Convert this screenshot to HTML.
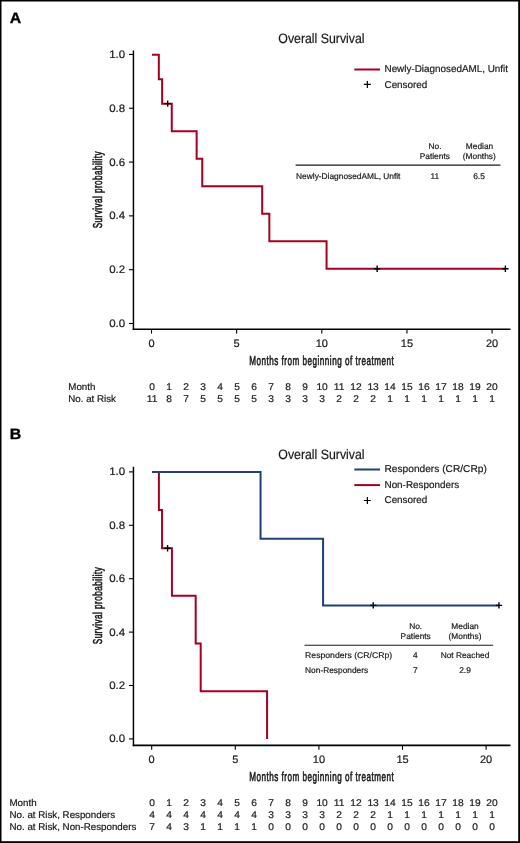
<!DOCTYPE html>
<html><head><meta charset="utf-8"><style>
html,body{margin:0;padding:0;background:#fff;}
svg{display:block;font-family:"Liberation Sans", sans-serif;will-change:transform;text-rendering:geometricPrecision;}
</style></head><body>
<svg width="520" height="843" viewBox="0 0 520 843">
<rect x="0" y="0" width="520" height="843" fill="#fff"/>
<text x="9.8" y="22.6" font-size="15" text-anchor="start" font-weight="bold" fill="#000" textLength="11.48" lengthAdjust="spacingAndGlyphs" stroke="#000" stroke-width="0.35">A</text>
<text x="278.3" y="43.0" font-size="13.6" text-anchor="start" font-weight="normal" fill="#1a1a1a" textLength="86.3" lengthAdjust="spacingAndGlyphs" stroke="#1a1a1a" stroke-width="0.2">Overall Survival</text>
<line x1="133.45" y1="50.5" x2="133.45" y2="330.0" stroke="#000" stroke-width="1.45" stroke-linecap="butt"/>
<line x1="132.75" y1="329.2" x2="510.5" y2="329.2" stroke="#000" stroke-width="1.6" stroke-linecap="butt"/>
<line x1="129.0" y1="323.5" x2="133.45" y2="323.5" stroke="#000" stroke-width="1.1" stroke-linecap="butt"/>
<text x="125.2" y="326.95" font-size="10.8" text-anchor="end" font-weight="normal" fill="#1a1a1a" textLength="15.99" lengthAdjust="spacingAndGlyphs" stroke="#1a1a1a" stroke-width="0.2">0.0</text>
<line x1="129.0" y1="269.69" x2="133.45" y2="269.69" stroke="#000" stroke-width="1.1" stroke-linecap="butt"/>
<text x="125.2" y="273.14" font-size="10.8" text-anchor="end" font-weight="normal" fill="#1a1a1a" textLength="15.99" lengthAdjust="spacingAndGlyphs" stroke="#1a1a1a" stroke-width="0.2">0.2</text>
<line x1="129.0" y1="215.88" x2="133.45" y2="215.88" stroke="#000" stroke-width="1.1" stroke-linecap="butt"/>
<text x="125.2" y="219.32999999999998" font-size="10.8" text-anchor="end" font-weight="normal" fill="#1a1a1a" textLength="15.99" lengthAdjust="spacingAndGlyphs" stroke="#1a1a1a" stroke-width="0.2">0.4</text>
<line x1="129.0" y1="162.06999999999996" x2="133.45" y2="162.06999999999996" stroke="#000" stroke-width="1.1" stroke-linecap="butt"/>
<text x="125.2" y="165.51999999999995" font-size="10.8" text-anchor="end" font-weight="normal" fill="#1a1a1a" textLength="15.99" lengthAdjust="spacingAndGlyphs" stroke="#1a1a1a" stroke-width="0.2">0.6</text>
<line x1="129.0" y1="108.25999999999999" x2="133.45" y2="108.25999999999999" stroke="#000" stroke-width="1.1" stroke-linecap="butt"/>
<text x="125.2" y="111.71" font-size="10.8" text-anchor="end" font-weight="normal" fill="#1a1a1a" textLength="15.99" lengthAdjust="spacingAndGlyphs" stroke="#1a1a1a" stroke-width="0.2">0.8</text>
<line x1="129.0" y1="54.44999999999999" x2="133.45" y2="54.44999999999999" stroke="#000" stroke-width="1.1" stroke-linecap="butt"/>
<text x="125.2" y="57.89999999999999" font-size="10.8" text-anchor="end" font-weight="normal" fill="#1a1a1a" textLength="15.99" lengthAdjust="spacingAndGlyphs" stroke="#1a1a1a" stroke-width="0.2">1.0</text>
<line x1="151.5" y1="329.2" x2="151.5" y2="333.59999999999997" stroke="#000" stroke-width="1.1" stroke-linecap="butt"/>
<text x="151.5" y="346.8" font-size="10.8" text-anchor="middle" font-weight="normal" fill="#1a1a1a" textLength="6.13" lengthAdjust="spacingAndGlyphs" stroke="#1a1a1a" stroke-width="0.2">0</text>
<line x1="236.65" y1="329.2" x2="236.65" y2="333.59999999999997" stroke="#000" stroke-width="1.1" stroke-linecap="butt"/>
<text x="236.65" y="346.8" font-size="10.8" text-anchor="middle" font-weight="normal" fill="#1a1a1a" textLength="6.13" lengthAdjust="spacingAndGlyphs" stroke="#1a1a1a" stroke-width="0.2">5</text>
<line x1="321.8" y1="329.2" x2="321.8" y2="333.59999999999997" stroke="#000" stroke-width="1.1" stroke-linecap="butt"/>
<text x="321.8" y="346.8" font-size="10.8" text-anchor="middle" font-weight="normal" fill="#1a1a1a" textLength="12.25" lengthAdjust="spacingAndGlyphs" stroke="#1a1a1a" stroke-width="0.2">10</text>
<line x1="406.95000000000005" y1="329.2" x2="406.95000000000005" y2="333.59999999999997" stroke="#000" stroke-width="1.1" stroke-linecap="butt"/>
<text x="406.95000000000005" y="346.8" font-size="10.8" text-anchor="middle" font-weight="normal" fill="#1a1a1a" textLength="12.25" lengthAdjust="spacingAndGlyphs" stroke="#1a1a1a" stroke-width="0.2">15</text>
<line x1="492.1" y1="329.2" x2="492.1" y2="333.59999999999997" stroke="#000" stroke-width="1.1" stroke-linecap="butt"/>
<text x="492.1" y="346.8" font-size="10.8" text-anchor="middle" font-weight="normal" fill="#1a1a1a" textLength="12.25" lengthAdjust="spacingAndGlyphs" stroke="#1a1a1a" stroke-width="0.2">20</text>
<text transform="translate(249.2,365.0) scale(0.63,1)" x="0" y="0" font-size="12.9" fill="#1a1a1a" textLength="229.37" lengthAdjust="spacing" stroke="#1a1a1a" stroke-width="0.6">Months from beginning of treatment</text>
<text transform="translate(102.3,189.85) rotate(-90) scale(0.63,1)" x="0" y="0" font-size="12.9" text-anchor="middle" fill="#1a1a1a" textLength="122.22" lengthAdjust="spacing" stroke="#1a1a1a" stroke-width="0.6">Survival probability</text>
<path d="M152.00,54.75 L158.82,54.75 L158.82,79.21 L162.14,79.21 L162.14,103.67 L171.77,103.67 L171.77,131.18 L196.63,131.18 L196.63,158.70 L202.25,158.70 L202.25,186.22 L262.19,186.22 L262.19,213.73 L269.35,213.73 L269.35,241.25 L326.57,241.25 L326.57,268.77 L505.38,268.77" stroke="#a50022" stroke-width="2" fill="none" stroke-linejoin="miter" stroke-linecap="butt"/>
<path d="M164.4785,103.6681818181818H170.87849999999997M167.67849999999999,100.46818181818179V106.8681818181818" stroke="#000" stroke-width="1.4" fill="none"/>
<path d="M373.94750000000005,268.76704545454544H380.3475M377.14750000000004,265.56704545454545V271.9670454545454" stroke="#000" stroke-width="1.4" fill="none"/>
<path d="M502.18340000000006,268.76704545454544H508.58340000000004M505.38340000000005,265.56704545454545V271.9670454545454" stroke="#000" stroke-width="1.4" fill="none"/>
<line x1="354.3" y1="69.5" x2="380" y2="69.5" stroke="#a50022" stroke-width="2" stroke-linecap="butt"/>
<text x="384.5" y="72.3" font-size="9.9" text-anchor="start" font-weight="normal" fill="#1a1a1a" stroke="#1a1a1a" stroke-width="0.2">Newly-DiagnosedAML, Unfit</text>
<path d="M363.85,84.4H370.85M367.35,80.9V87.9" stroke="#000" stroke-width="1.2" fill="none"/>
<text x="384.5" y="87.7" font-size="9.9" text-anchor="start" font-weight="normal" fill="#1a1a1a" stroke="#1a1a1a" stroke-width="0.2">Censored</text>
<text x="435" y="148.8" font-size="8.35" text-anchor="middle" font-weight="normal" fill="#1a1a1a" stroke="#1a1a1a" stroke-width="0.2">No.</text>
<text x="434.8" y="158.7" font-size="8.35" text-anchor="middle" font-weight="normal" fill="#1a1a1a" stroke="#1a1a1a" stroke-width="0.2">Patients</text>
<text x="479.5" y="148.8" font-size="8.35" text-anchor="middle" font-weight="normal" fill="#1a1a1a" stroke="#1a1a1a" stroke-width="0.2">Median</text>
<text x="479.3" y="158.7" font-size="8.35" text-anchor="middle" font-weight="normal" fill="#1a1a1a" stroke="#1a1a1a" stroke-width="0.2">(Months)</text>
<text x="296.1" y="178.5" font-size="8.35" text-anchor="start" font-weight="normal" fill="#1a1a1a" stroke="#1a1a1a" stroke-width="0.2">Newly-DiagnosedAML, Unfit</text>
<text x="434.8" y="178.5" font-size="8.35" text-anchor="middle" font-weight="normal" fill="#1a1a1a" stroke="#1a1a1a" stroke-width="0.2">11</text>
<text x="479.0" y="178.5" font-size="8.35" text-anchor="middle" font-weight="normal" fill="#1a1a1a" stroke="#1a1a1a" stroke-width="0.2">6.5</text>
<line x1="295.6" y1="165.2" x2="500.4" y2="165.2" stroke="#1a1a1a" stroke-width="1.2" stroke-linecap="butt"/>
<text x="68.3" y="390.0" font-size="9.75" text-anchor="start" font-weight="normal" fill="#1a1a1a" stroke="#1a1a1a" stroke-width="0.2">Month</text>
<text x="68.3" y="401.9" font-size="9.75" text-anchor="start" font-weight="normal" fill="#1a1a1a" stroke="#1a1a1a" stroke-width="0.2">No. at Risk</text>
<text x="152.2" y="390.0" font-size="9.75" text-anchor="middle" font-weight="normal" fill="#1a1a1a" textLength="5.69" lengthAdjust="spacingAndGlyphs" stroke="#1a1a1a" stroke-width="0.2">0</text>
<text x="169.19" y="390.0" font-size="9.75" text-anchor="middle" font-weight="normal" fill="#1a1a1a" textLength="5.69" lengthAdjust="spacingAndGlyphs" stroke="#1a1a1a" stroke-width="0.2">1</text>
<text x="186.17999999999998" y="390.0" font-size="9.75" text-anchor="middle" font-weight="normal" fill="#1a1a1a" textLength="5.69" lengthAdjust="spacingAndGlyphs" stroke="#1a1a1a" stroke-width="0.2">2</text>
<text x="203.17" y="390.0" font-size="9.75" text-anchor="middle" font-weight="normal" fill="#1a1a1a" textLength="5.69" lengthAdjust="spacingAndGlyphs" stroke="#1a1a1a" stroke-width="0.2">3</text>
<text x="220.15999999999997" y="390.0" font-size="9.75" text-anchor="middle" font-weight="normal" fill="#1a1a1a" textLength="5.69" lengthAdjust="spacingAndGlyphs" stroke="#1a1a1a" stroke-width="0.2">4</text>
<text x="237.14999999999998" y="390.0" font-size="9.75" text-anchor="middle" font-weight="normal" fill="#1a1a1a" textLength="5.69" lengthAdjust="spacingAndGlyphs" stroke="#1a1a1a" stroke-width="0.2">5</text>
<text x="254.14" y="390.0" font-size="9.75" text-anchor="middle" font-weight="normal" fill="#1a1a1a" textLength="5.69" lengthAdjust="spacingAndGlyphs" stroke="#1a1a1a" stroke-width="0.2">6</text>
<text x="271.13" y="390.0" font-size="9.75" text-anchor="middle" font-weight="normal" fill="#1a1a1a" textLength="5.69" lengthAdjust="spacingAndGlyphs" stroke="#1a1a1a" stroke-width="0.2">7</text>
<text x="288.12" y="390.0" font-size="9.75" text-anchor="middle" font-weight="normal" fill="#1a1a1a" textLength="5.69" lengthAdjust="spacingAndGlyphs" stroke="#1a1a1a" stroke-width="0.2">8</text>
<text x="305.11" y="390.0" font-size="9.75" text-anchor="middle" font-weight="normal" fill="#1a1a1a" textLength="5.69" lengthAdjust="spacingAndGlyphs" stroke="#1a1a1a" stroke-width="0.2">9</text>
<text x="322.09999999999997" y="390.0" font-size="9.75" text-anchor="middle" font-weight="normal" fill="#1a1a1a" textLength="11.39" lengthAdjust="spacingAndGlyphs" stroke="#1a1a1a" stroke-width="0.2">10</text>
<text x="339.09" y="390.0" font-size="9.75" text-anchor="middle" font-weight="normal" fill="#1a1a1a" textLength="10.63" lengthAdjust="spacingAndGlyphs" stroke="#1a1a1a" stroke-width="0.2">11</text>
<text x="356.08" y="390.0" font-size="9.75" text-anchor="middle" font-weight="normal" fill="#1a1a1a" textLength="11.39" lengthAdjust="spacingAndGlyphs" stroke="#1a1a1a" stroke-width="0.2">12</text>
<text x="373.06999999999994" y="390.0" font-size="9.75" text-anchor="middle" font-weight="normal" fill="#1a1a1a" textLength="11.39" lengthAdjust="spacingAndGlyphs" stroke="#1a1a1a" stroke-width="0.2">13</text>
<text x="390.05999999999995" y="390.0" font-size="9.75" text-anchor="middle" font-weight="normal" fill="#1a1a1a" textLength="11.39" lengthAdjust="spacingAndGlyphs" stroke="#1a1a1a" stroke-width="0.2">14</text>
<text x="407.04999999999995" y="390.0" font-size="9.75" text-anchor="middle" font-weight="normal" fill="#1a1a1a" textLength="11.39" lengthAdjust="spacingAndGlyphs" stroke="#1a1a1a" stroke-width="0.2">15</text>
<text x="424.03999999999996" y="390.0" font-size="9.75" text-anchor="middle" font-weight="normal" fill="#1a1a1a" textLength="11.39" lengthAdjust="spacingAndGlyphs" stroke="#1a1a1a" stroke-width="0.2">16</text>
<text x="441.03" y="390.0" font-size="9.75" text-anchor="middle" font-weight="normal" fill="#1a1a1a" textLength="11.39" lengthAdjust="spacingAndGlyphs" stroke="#1a1a1a" stroke-width="0.2">17</text>
<text x="458.02" y="390.0" font-size="9.75" text-anchor="middle" font-weight="normal" fill="#1a1a1a" textLength="11.39" lengthAdjust="spacingAndGlyphs" stroke="#1a1a1a" stroke-width="0.2">18</text>
<text x="475.00999999999993" y="390.0" font-size="9.75" text-anchor="middle" font-weight="normal" fill="#1a1a1a" textLength="11.39" lengthAdjust="spacingAndGlyphs" stroke="#1a1a1a" stroke-width="0.2">19</text>
<text x="491.99999999999994" y="390.0" font-size="9.75" text-anchor="middle" font-weight="normal" fill="#1a1a1a" textLength="11.39" lengthAdjust="spacingAndGlyphs" stroke="#1a1a1a" stroke-width="0.2">20</text>
<text x="152.2" y="401.9" font-size="9.75" text-anchor="middle" font-weight="normal" fill="#1a1a1a" textLength="10.63" lengthAdjust="spacingAndGlyphs" stroke="#1a1a1a" stroke-width="0.2">11</text>
<text x="169.19" y="401.9" font-size="9.75" text-anchor="middle" font-weight="normal" fill="#1a1a1a" textLength="5.69" lengthAdjust="spacingAndGlyphs" stroke="#1a1a1a" stroke-width="0.2">8</text>
<text x="186.17999999999998" y="401.9" font-size="9.75" text-anchor="middle" font-weight="normal" fill="#1a1a1a" textLength="5.69" lengthAdjust="spacingAndGlyphs" stroke="#1a1a1a" stroke-width="0.2">7</text>
<text x="203.17" y="401.9" font-size="9.75" text-anchor="middle" font-weight="normal" fill="#1a1a1a" textLength="5.69" lengthAdjust="spacingAndGlyphs" stroke="#1a1a1a" stroke-width="0.2">5</text>
<text x="220.15999999999997" y="401.9" font-size="9.75" text-anchor="middle" font-weight="normal" fill="#1a1a1a" textLength="5.69" lengthAdjust="spacingAndGlyphs" stroke="#1a1a1a" stroke-width="0.2">5</text>
<text x="237.14999999999998" y="401.9" font-size="9.75" text-anchor="middle" font-weight="normal" fill="#1a1a1a" textLength="5.69" lengthAdjust="spacingAndGlyphs" stroke="#1a1a1a" stroke-width="0.2">5</text>
<text x="254.14" y="401.9" font-size="9.75" text-anchor="middle" font-weight="normal" fill="#1a1a1a" textLength="5.69" lengthAdjust="spacingAndGlyphs" stroke="#1a1a1a" stroke-width="0.2">5</text>
<text x="271.13" y="401.9" font-size="9.75" text-anchor="middle" font-weight="normal" fill="#1a1a1a" textLength="5.69" lengthAdjust="spacingAndGlyphs" stroke="#1a1a1a" stroke-width="0.2">3</text>
<text x="288.12" y="401.9" font-size="9.75" text-anchor="middle" font-weight="normal" fill="#1a1a1a" textLength="5.69" lengthAdjust="spacingAndGlyphs" stroke="#1a1a1a" stroke-width="0.2">3</text>
<text x="305.11" y="401.9" font-size="9.75" text-anchor="middle" font-weight="normal" fill="#1a1a1a" textLength="5.69" lengthAdjust="spacingAndGlyphs" stroke="#1a1a1a" stroke-width="0.2">3</text>
<text x="322.09999999999997" y="401.9" font-size="9.75" text-anchor="middle" font-weight="normal" fill="#1a1a1a" textLength="5.69" lengthAdjust="spacingAndGlyphs" stroke="#1a1a1a" stroke-width="0.2">3</text>
<text x="339.09" y="401.9" font-size="9.75" text-anchor="middle" font-weight="normal" fill="#1a1a1a" textLength="5.69" lengthAdjust="spacingAndGlyphs" stroke="#1a1a1a" stroke-width="0.2">2</text>
<text x="356.08" y="401.9" font-size="9.75" text-anchor="middle" font-weight="normal" fill="#1a1a1a" textLength="5.69" lengthAdjust="spacingAndGlyphs" stroke="#1a1a1a" stroke-width="0.2">2</text>
<text x="373.06999999999994" y="401.9" font-size="9.75" text-anchor="middle" font-weight="normal" fill="#1a1a1a" textLength="5.69" lengthAdjust="spacingAndGlyphs" stroke="#1a1a1a" stroke-width="0.2">2</text>
<text x="390.05999999999995" y="401.9" font-size="9.75" text-anchor="middle" font-weight="normal" fill="#1a1a1a" textLength="5.69" lengthAdjust="spacingAndGlyphs" stroke="#1a1a1a" stroke-width="0.2">1</text>
<text x="407.04999999999995" y="401.9" font-size="9.75" text-anchor="middle" font-weight="normal" fill="#1a1a1a" textLength="5.69" lengthAdjust="spacingAndGlyphs" stroke="#1a1a1a" stroke-width="0.2">1</text>
<text x="424.03999999999996" y="401.9" font-size="9.75" text-anchor="middle" font-weight="normal" fill="#1a1a1a" textLength="5.69" lengthAdjust="spacingAndGlyphs" stroke="#1a1a1a" stroke-width="0.2">1</text>
<text x="441.03" y="401.9" font-size="9.75" text-anchor="middle" font-weight="normal" fill="#1a1a1a" textLength="5.69" lengthAdjust="spacingAndGlyphs" stroke="#1a1a1a" stroke-width="0.2">1</text>
<text x="458.02" y="401.9" font-size="9.75" text-anchor="middle" font-weight="normal" fill="#1a1a1a" textLength="5.69" lengthAdjust="spacingAndGlyphs" stroke="#1a1a1a" stroke-width="0.2">1</text>
<text x="475.00999999999993" y="401.9" font-size="9.75" text-anchor="middle" font-weight="normal" fill="#1a1a1a" textLength="5.69" lengthAdjust="spacingAndGlyphs" stroke="#1a1a1a" stroke-width="0.2">1</text>
<text x="491.99999999999994" y="401.9" font-size="9.75" text-anchor="middle" font-weight="normal" fill="#1a1a1a" textLength="5.69" lengthAdjust="spacingAndGlyphs" stroke="#1a1a1a" stroke-width="0.2">1</text>
<text x="9.8" y="439.0" font-size="15" text-anchor="start" font-weight="bold" fill="#000" textLength="11.48" lengthAdjust="spacingAndGlyphs" stroke="#000" stroke-width="0.35">B</text>
<text x="278.3" y="459.0" font-size="13.6" text-anchor="start" font-weight="normal" fill="#1a1a1a" textLength="86.3" lengthAdjust="spacingAndGlyphs" stroke="#1a1a1a" stroke-width="0.2">Overall Survival</text>
<line x1="133.45" y1="466.8" x2="133.45" y2="746.1999999999999" stroke="#000" stroke-width="1.45" stroke-linecap="butt"/>
<line x1="132.75" y1="745.4" x2="510.5" y2="745.4" stroke="#000" stroke-width="1.6" stroke-linecap="butt"/>
<line x1="129.0" y1="738.9" x2="133.45" y2="738.9" stroke="#000" stroke-width="1.1" stroke-linecap="butt"/>
<text x="125.2" y="742.35" font-size="10.8" text-anchor="end" font-weight="normal" fill="#1a1a1a" textLength="15.99" lengthAdjust="spacingAndGlyphs" stroke="#1a1a1a" stroke-width="0.2">0.0</text>
<line x1="129.0" y1="685.5" x2="133.45" y2="685.5" stroke="#000" stroke-width="1.1" stroke-linecap="butt"/>
<text x="125.2" y="688.95" font-size="10.8" text-anchor="end" font-weight="normal" fill="#1a1a1a" textLength="15.99" lengthAdjust="spacingAndGlyphs" stroke="#1a1a1a" stroke-width="0.2">0.2</text>
<line x1="129.0" y1="632.0999999999999" x2="133.45" y2="632.0999999999999" stroke="#000" stroke-width="1.1" stroke-linecap="butt"/>
<text x="125.2" y="635.55" font-size="10.8" text-anchor="end" font-weight="normal" fill="#1a1a1a" textLength="15.99" lengthAdjust="spacingAndGlyphs" stroke="#1a1a1a" stroke-width="0.2">0.4</text>
<line x1="129.0" y1="578.6999999999999" x2="133.45" y2="578.6999999999999" stroke="#000" stroke-width="1.1" stroke-linecap="butt"/>
<text x="125.2" y="582.15" font-size="10.8" text-anchor="end" font-weight="normal" fill="#1a1a1a" textLength="15.99" lengthAdjust="spacingAndGlyphs" stroke="#1a1a1a" stroke-width="0.2">0.6</text>
<line x1="129.0" y1="525.3" x2="133.45" y2="525.3" stroke="#000" stroke-width="1.1" stroke-linecap="butt"/>
<text x="125.2" y="528.75" font-size="10.8" text-anchor="end" font-weight="normal" fill="#1a1a1a" textLength="15.99" lengthAdjust="spacingAndGlyphs" stroke="#1a1a1a" stroke-width="0.2">0.8</text>
<line x1="129.0" y1="471.9" x2="133.45" y2="471.9" stroke="#000" stroke-width="1.1" stroke-linecap="butt"/>
<text x="125.2" y="475.34999999999997" font-size="10.8" text-anchor="end" font-weight="normal" fill="#1a1a1a" textLength="15.99" lengthAdjust="spacingAndGlyphs" stroke="#1a1a1a" stroke-width="0.2">1.0</text>
<line x1="151.7" y1="745.4" x2="151.7" y2="749.8" stroke="#000" stroke-width="1.1" stroke-linecap="butt"/>
<text x="151.7" y="763.0" font-size="10.8" text-anchor="middle" font-weight="normal" fill="#1a1a1a" textLength="6.13" lengthAdjust="spacingAndGlyphs" stroke="#1a1a1a" stroke-width="0.2">0</text>
<line x1="235.29999999999998" y1="745.4" x2="235.29999999999998" y2="749.8" stroke="#000" stroke-width="1.1" stroke-linecap="butt"/>
<text x="235.29999999999998" y="763.0" font-size="10.8" text-anchor="middle" font-weight="normal" fill="#1a1a1a" textLength="6.13" lengthAdjust="spacingAndGlyphs" stroke="#1a1a1a" stroke-width="0.2">5</text>
<line x1="318.9" y1="745.4" x2="318.9" y2="749.8" stroke="#000" stroke-width="1.1" stroke-linecap="butt"/>
<text x="318.9" y="763.0" font-size="10.8" text-anchor="middle" font-weight="normal" fill="#1a1a1a" textLength="12.25" lengthAdjust="spacingAndGlyphs" stroke="#1a1a1a" stroke-width="0.2">10</text>
<line x1="402.5" y1="745.4" x2="402.5" y2="749.8" stroke="#000" stroke-width="1.1" stroke-linecap="butt"/>
<text x="402.5" y="763.0" font-size="10.8" text-anchor="middle" font-weight="normal" fill="#1a1a1a" textLength="12.25" lengthAdjust="spacingAndGlyphs" stroke="#1a1a1a" stroke-width="0.2">15</text>
<line x1="486.09999999999997" y1="745.4" x2="486.09999999999997" y2="749.8" stroke="#000" stroke-width="1.1" stroke-linecap="butt"/>
<text x="486.09999999999997" y="763.0" font-size="10.8" text-anchor="middle" font-weight="normal" fill="#1a1a1a" textLength="12.25" lengthAdjust="spacingAndGlyphs" stroke="#1a1a1a" stroke-width="0.2">20</text>
<text transform="translate(249.2,781.2) scale(0.63,1)" x="0" y="0" font-size="12.9" fill="#1a1a1a" textLength="229.37" lengthAdjust="spacing" stroke="#1a1a1a" stroke-width="0.6">Months from beginning of treatment</text>
<text transform="translate(102.3,605.75) rotate(-90) scale(0.63,1)" x="0" y="0" font-size="12.9" text-anchor="middle" fill="#1a1a1a" textLength="122.22" lengthAdjust="spacing" stroke="#1a1a1a" stroke-width="0.6">Survival probability</text>
<path d="M152.00,471.90 L158.89,471.90 L158.89,510.04 L162.07,510.04 L162.07,548.19 L171.93,548.19 L171.93,595.86 L195.67,595.86 L195.67,643.54 L200.69,643.54 L200.69,691.22 L267.07,691.22 L267.07,738.90" stroke="#a50022" stroke-width="2" fill="none" stroke-linejoin="miter" stroke-linecap="butt"/>
<path d="M152.00,471.90 L260.55,471.90 L260.55,538.65 L323.08,538.65 L323.08,605.40 L498.97,605.40" stroke="#1f4178" stroke-width="2" fill="none" stroke-linejoin="miter" stroke-linecap="butt"/>
<path d="M164.384,548.1857142857143H170.78399999999996M167.58399999999997,544.9857142857143V551.3857142857144" stroke="#000" stroke-width="1.4" fill="none"/>
<path d="M370.04,605.4H376.44M373.24,602.1999999999999V608.6" stroke="#000" stroke-width="1.4" fill="none"/>
<path d="M495.77439999999996,605.4H502.17439999999993M498.97439999999995,602.1999999999999V608.6" stroke="#000" stroke-width="1.4" fill="none"/>
<line x1="354.3" y1="469.5" x2="380" y2="469.5" stroke="#1f4178" stroke-width="2" stroke-linecap="butt"/>
<text x="384.5" y="472.3" font-size="9.9" text-anchor="start" font-weight="normal" fill="#1a1a1a" textLength="102.3" lengthAdjust="spacingAndGlyphs" stroke="#1a1a1a" stroke-width="0.2">Responders (CR/CRp)</text>
<line x1="354.3" y1="485.09999999999997" x2="380" y2="485.09999999999997" stroke="#a50022" stroke-width="2" stroke-linecap="butt"/>
<text x="384.5" y="487.9" font-size="9.9" text-anchor="start" font-weight="normal" fill="#1a1a1a" stroke="#1a1a1a" stroke-width="0.2">Non-Responders</text>
<path d="M363.85,500.5H370.85M367.35,497.0V504.0" stroke="#000" stroke-width="1.2" fill="none"/>
<text x="384.5" y="503.4" font-size="9.9" text-anchor="start" font-weight="normal" fill="#1a1a1a" stroke="#1a1a1a" stroke-width="0.2">Censored</text>
<text x="415.7" y="628.75" font-size="8.35" text-anchor="middle" font-weight="normal" fill="#1a1a1a" stroke="#1a1a1a" stroke-width="0.2">No.</text>
<text x="415.7" y="638.7" font-size="8.35" text-anchor="middle" font-weight="normal" fill="#1a1a1a" stroke="#1a1a1a" stroke-width="0.2">Patients</text>
<text x="465" y="628.75" font-size="8.35" text-anchor="middle" font-weight="normal" fill="#1a1a1a" stroke="#1a1a1a" stroke-width="0.2">Median</text>
<text x="465" y="638.7" font-size="8.35" text-anchor="middle" font-weight="normal" fill="#1a1a1a" stroke="#1a1a1a" stroke-width="0.2">(Months)</text>
<text x="305.1" y="658.4" font-size="8.35" text-anchor="start" font-weight="normal" fill="#1a1a1a" textLength="87.1" lengthAdjust="spacingAndGlyphs" stroke="#1a1a1a" stroke-width="0.2">Responders (CR/CRp)</text>
<text x="305.1" y="673.2" font-size="8.35" text-anchor="start" font-weight="normal" fill="#1a1a1a" stroke="#1a1a1a" stroke-width="0.2">Non-Responders</text>
<text x="415.2" y="658.4" font-size="8.35" text-anchor="middle" font-weight="normal" fill="#1a1a1a" stroke="#1a1a1a" stroke-width="0.2">4</text>
<text x="465" y="658.4" font-size="8.35" text-anchor="middle" font-weight="normal" fill="#1a1a1a" stroke="#1a1a1a" stroke-width="0.2">Not Reached</text>
<text x="415.2" y="673.2" font-size="8.35" text-anchor="middle" font-weight="normal" fill="#1a1a1a" stroke="#1a1a1a" stroke-width="0.2">7</text>
<text x="465" y="673.2" font-size="8.35" text-anchor="middle" font-weight="normal" fill="#1a1a1a" stroke="#1a1a1a" stroke-width="0.2">2.9</text>
<line x1="304.5" y1="645.25" x2="493.1" y2="645.25" stroke="#1a1a1a" stroke-width="1.2" stroke-linecap="butt"/>
<text x="9.5" y="805.9" font-size="9.75" text-anchor="start" font-weight="normal" fill="#1a1a1a" stroke="#1a1a1a" stroke-width="0.2">Month</text>
<text x="9.5" y="818.2" font-size="9.75" text-anchor="start" font-weight="normal" fill="#1a1a1a" stroke="#1a1a1a" stroke-width="0.2">No. at Risk, Responders</text>
<text x="9.5" y="830.3" font-size="9.75" text-anchor="start" font-weight="normal" fill="#1a1a1a" stroke="#1a1a1a" stroke-width="0.2">No. at Risk, Non-Responders</text>
<text x="152.2" y="805.9" font-size="9.75" text-anchor="middle" font-weight="normal" fill="#1a1a1a" textLength="5.69" lengthAdjust="spacingAndGlyphs" stroke="#1a1a1a" stroke-width="0.2">0</text>
<text x="169.19" y="805.9" font-size="9.75" text-anchor="middle" font-weight="normal" fill="#1a1a1a" textLength="5.69" lengthAdjust="spacingAndGlyphs" stroke="#1a1a1a" stroke-width="0.2">1</text>
<text x="186.17999999999998" y="805.9" font-size="9.75" text-anchor="middle" font-weight="normal" fill="#1a1a1a" textLength="5.69" lengthAdjust="spacingAndGlyphs" stroke="#1a1a1a" stroke-width="0.2">2</text>
<text x="203.17" y="805.9" font-size="9.75" text-anchor="middle" font-weight="normal" fill="#1a1a1a" textLength="5.69" lengthAdjust="spacingAndGlyphs" stroke="#1a1a1a" stroke-width="0.2">3</text>
<text x="220.15999999999997" y="805.9" font-size="9.75" text-anchor="middle" font-weight="normal" fill="#1a1a1a" textLength="5.69" lengthAdjust="spacingAndGlyphs" stroke="#1a1a1a" stroke-width="0.2">4</text>
<text x="237.14999999999998" y="805.9" font-size="9.75" text-anchor="middle" font-weight="normal" fill="#1a1a1a" textLength="5.69" lengthAdjust="spacingAndGlyphs" stroke="#1a1a1a" stroke-width="0.2">5</text>
<text x="254.14" y="805.9" font-size="9.75" text-anchor="middle" font-weight="normal" fill="#1a1a1a" textLength="5.69" lengthAdjust="spacingAndGlyphs" stroke="#1a1a1a" stroke-width="0.2">6</text>
<text x="271.13" y="805.9" font-size="9.75" text-anchor="middle" font-weight="normal" fill="#1a1a1a" textLength="5.69" lengthAdjust="spacingAndGlyphs" stroke="#1a1a1a" stroke-width="0.2">7</text>
<text x="288.12" y="805.9" font-size="9.75" text-anchor="middle" font-weight="normal" fill="#1a1a1a" textLength="5.69" lengthAdjust="spacingAndGlyphs" stroke="#1a1a1a" stroke-width="0.2">8</text>
<text x="305.11" y="805.9" font-size="9.75" text-anchor="middle" font-weight="normal" fill="#1a1a1a" textLength="5.69" lengthAdjust="spacingAndGlyphs" stroke="#1a1a1a" stroke-width="0.2">9</text>
<text x="322.09999999999997" y="805.9" font-size="9.75" text-anchor="middle" font-weight="normal" fill="#1a1a1a" textLength="11.39" lengthAdjust="spacingAndGlyphs" stroke="#1a1a1a" stroke-width="0.2">10</text>
<text x="339.09" y="805.9" font-size="9.75" text-anchor="middle" font-weight="normal" fill="#1a1a1a" textLength="10.63" lengthAdjust="spacingAndGlyphs" stroke="#1a1a1a" stroke-width="0.2">11</text>
<text x="356.08" y="805.9" font-size="9.75" text-anchor="middle" font-weight="normal" fill="#1a1a1a" textLength="11.39" lengthAdjust="spacingAndGlyphs" stroke="#1a1a1a" stroke-width="0.2">12</text>
<text x="373.06999999999994" y="805.9" font-size="9.75" text-anchor="middle" font-weight="normal" fill="#1a1a1a" textLength="11.39" lengthAdjust="spacingAndGlyphs" stroke="#1a1a1a" stroke-width="0.2">13</text>
<text x="390.05999999999995" y="805.9" font-size="9.75" text-anchor="middle" font-weight="normal" fill="#1a1a1a" textLength="11.39" lengthAdjust="spacingAndGlyphs" stroke="#1a1a1a" stroke-width="0.2">14</text>
<text x="407.04999999999995" y="805.9" font-size="9.75" text-anchor="middle" font-weight="normal" fill="#1a1a1a" textLength="11.39" lengthAdjust="spacingAndGlyphs" stroke="#1a1a1a" stroke-width="0.2">15</text>
<text x="424.03999999999996" y="805.9" font-size="9.75" text-anchor="middle" font-weight="normal" fill="#1a1a1a" textLength="11.39" lengthAdjust="spacingAndGlyphs" stroke="#1a1a1a" stroke-width="0.2">16</text>
<text x="441.03" y="805.9" font-size="9.75" text-anchor="middle" font-weight="normal" fill="#1a1a1a" textLength="11.39" lengthAdjust="spacingAndGlyphs" stroke="#1a1a1a" stroke-width="0.2">17</text>
<text x="458.02" y="805.9" font-size="9.75" text-anchor="middle" font-weight="normal" fill="#1a1a1a" textLength="11.39" lengthAdjust="spacingAndGlyphs" stroke="#1a1a1a" stroke-width="0.2">18</text>
<text x="475.00999999999993" y="805.9" font-size="9.75" text-anchor="middle" font-weight="normal" fill="#1a1a1a" textLength="11.39" lengthAdjust="spacingAndGlyphs" stroke="#1a1a1a" stroke-width="0.2">19</text>
<text x="491.99999999999994" y="805.9" font-size="9.75" text-anchor="middle" font-weight="normal" fill="#1a1a1a" textLength="11.39" lengthAdjust="spacingAndGlyphs" stroke="#1a1a1a" stroke-width="0.2">20</text>
<text x="152.2" y="818.2" font-size="9.75" text-anchor="middle" font-weight="normal" fill="#1a1a1a" textLength="5.69" lengthAdjust="spacingAndGlyphs" stroke="#1a1a1a" stroke-width="0.2">4</text>
<text x="169.19" y="818.2" font-size="9.75" text-anchor="middle" font-weight="normal" fill="#1a1a1a" textLength="5.69" lengthAdjust="spacingAndGlyphs" stroke="#1a1a1a" stroke-width="0.2">4</text>
<text x="186.17999999999998" y="818.2" font-size="9.75" text-anchor="middle" font-weight="normal" fill="#1a1a1a" textLength="5.69" lengthAdjust="spacingAndGlyphs" stroke="#1a1a1a" stroke-width="0.2">4</text>
<text x="203.17" y="818.2" font-size="9.75" text-anchor="middle" font-weight="normal" fill="#1a1a1a" textLength="5.69" lengthAdjust="spacingAndGlyphs" stroke="#1a1a1a" stroke-width="0.2">4</text>
<text x="220.15999999999997" y="818.2" font-size="9.75" text-anchor="middle" font-weight="normal" fill="#1a1a1a" textLength="5.69" lengthAdjust="spacingAndGlyphs" stroke="#1a1a1a" stroke-width="0.2">4</text>
<text x="237.14999999999998" y="818.2" font-size="9.75" text-anchor="middle" font-weight="normal" fill="#1a1a1a" textLength="5.69" lengthAdjust="spacingAndGlyphs" stroke="#1a1a1a" stroke-width="0.2">4</text>
<text x="254.14" y="818.2" font-size="9.75" text-anchor="middle" font-weight="normal" fill="#1a1a1a" textLength="5.69" lengthAdjust="spacingAndGlyphs" stroke="#1a1a1a" stroke-width="0.2">4</text>
<text x="271.13" y="818.2" font-size="9.75" text-anchor="middle" font-weight="normal" fill="#1a1a1a" textLength="5.69" lengthAdjust="spacingAndGlyphs" stroke="#1a1a1a" stroke-width="0.2">3</text>
<text x="288.12" y="818.2" font-size="9.75" text-anchor="middle" font-weight="normal" fill="#1a1a1a" textLength="5.69" lengthAdjust="spacingAndGlyphs" stroke="#1a1a1a" stroke-width="0.2">3</text>
<text x="305.11" y="818.2" font-size="9.75" text-anchor="middle" font-weight="normal" fill="#1a1a1a" textLength="5.69" lengthAdjust="spacingAndGlyphs" stroke="#1a1a1a" stroke-width="0.2">3</text>
<text x="322.09999999999997" y="818.2" font-size="9.75" text-anchor="middle" font-weight="normal" fill="#1a1a1a" textLength="5.69" lengthAdjust="spacingAndGlyphs" stroke="#1a1a1a" stroke-width="0.2">3</text>
<text x="339.09" y="818.2" font-size="9.75" text-anchor="middle" font-weight="normal" fill="#1a1a1a" textLength="5.69" lengthAdjust="spacingAndGlyphs" stroke="#1a1a1a" stroke-width="0.2">2</text>
<text x="356.08" y="818.2" font-size="9.75" text-anchor="middle" font-weight="normal" fill="#1a1a1a" textLength="5.69" lengthAdjust="spacingAndGlyphs" stroke="#1a1a1a" stroke-width="0.2">2</text>
<text x="373.06999999999994" y="818.2" font-size="9.75" text-anchor="middle" font-weight="normal" fill="#1a1a1a" textLength="5.69" lengthAdjust="spacingAndGlyphs" stroke="#1a1a1a" stroke-width="0.2">2</text>
<text x="390.05999999999995" y="818.2" font-size="9.75" text-anchor="middle" font-weight="normal" fill="#1a1a1a" textLength="5.69" lengthAdjust="spacingAndGlyphs" stroke="#1a1a1a" stroke-width="0.2">1</text>
<text x="407.04999999999995" y="818.2" font-size="9.75" text-anchor="middle" font-weight="normal" fill="#1a1a1a" textLength="5.69" lengthAdjust="spacingAndGlyphs" stroke="#1a1a1a" stroke-width="0.2">1</text>
<text x="424.03999999999996" y="818.2" font-size="9.75" text-anchor="middle" font-weight="normal" fill="#1a1a1a" textLength="5.69" lengthAdjust="spacingAndGlyphs" stroke="#1a1a1a" stroke-width="0.2">1</text>
<text x="441.03" y="818.2" font-size="9.75" text-anchor="middle" font-weight="normal" fill="#1a1a1a" textLength="5.69" lengthAdjust="spacingAndGlyphs" stroke="#1a1a1a" stroke-width="0.2">1</text>
<text x="458.02" y="818.2" font-size="9.75" text-anchor="middle" font-weight="normal" fill="#1a1a1a" textLength="5.69" lengthAdjust="spacingAndGlyphs" stroke="#1a1a1a" stroke-width="0.2">1</text>
<text x="475.00999999999993" y="818.2" font-size="9.75" text-anchor="middle" font-weight="normal" fill="#1a1a1a" textLength="5.69" lengthAdjust="spacingAndGlyphs" stroke="#1a1a1a" stroke-width="0.2">1</text>
<text x="491.99999999999994" y="818.2" font-size="9.75" text-anchor="middle" font-weight="normal" fill="#1a1a1a" textLength="5.69" lengthAdjust="spacingAndGlyphs" stroke="#1a1a1a" stroke-width="0.2">1</text>
<text x="152.2" y="830.3" font-size="9.75" text-anchor="middle" font-weight="normal" fill="#1a1a1a" textLength="5.69" lengthAdjust="spacingAndGlyphs" stroke="#1a1a1a" stroke-width="0.2">7</text>
<text x="169.19" y="830.3" font-size="9.75" text-anchor="middle" font-weight="normal" fill="#1a1a1a" textLength="5.69" lengthAdjust="spacingAndGlyphs" stroke="#1a1a1a" stroke-width="0.2">4</text>
<text x="186.17999999999998" y="830.3" font-size="9.75" text-anchor="middle" font-weight="normal" fill="#1a1a1a" textLength="5.69" lengthAdjust="spacingAndGlyphs" stroke="#1a1a1a" stroke-width="0.2">3</text>
<text x="203.17" y="830.3" font-size="9.75" text-anchor="middle" font-weight="normal" fill="#1a1a1a" textLength="5.69" lengthAdjust="spacingAndGlyphs" stroke="#1a1a1a" stroke-width="0.2">1</text>
<text x="220.15999999999997" y="830.3" font-size="9.75" text-anchor="middle" font-weight="normal" fill="#1a1a1a" textLength="5.69" lengthAdjust="spacingAndGlyphs" stroke="#1a1a1a" stroke-width="0.2">1</text>
<text x="237.14999999999998" y="830.3" font-size="9.75" text-anchor="middle" font-weight="normal" fill="#1a1a1a" textLength="5.69" lengthAdjust="spacingAndGlyphs" stroke="#1a1a1a" stroke-width="0.2">1</text>
<text x="254.14" y="830.3" font-size="9.75" text-anchor="middle" font-weight="normal" fill="#1a1a1a" textLength="5.69" lengthAdjust="spacingAndGlyphs" stroke="#1a1a1a" stroke-width="0.2">1</text>
<text x="271.13" y="830.3" font-size="9.75" text-anchor="middle" font-weight="normal" fill="#1a1a1a" textLength="5.69" lengthAdjust="spacingAndGlyphs" stroke="#1a1a1a" stroke-width="0.2">0</text>
<text x="288.12" y="830.3" font-size="9.75" text-anchor="middle" font-weight="normal" fill="#1a1a1a" textLength="5.69" lengthAdjust="spacingAndGlyphs" stroke="#1a1a1a" stroke-width="0.2">0</text>
<text x="305.11" y="830.3" font-size="9.75" text-anchor="middle" font-weight="normal" fill="#1a1a1a" textLength="5.69" lengthAdjust="spacingAndGlyphs" stroke="#1a1a1a" stroke-width="0.2">0</text>
<text x="322.09999999999997" y="830.3" font-size="9.75" text-anchor="middle" font-weight="normal" fill="#1a1a1a" textLength="5.69" lengthAdjust="spacingAndGlyphs" stroke="#1a1a1a" stroke-width="0.2">0</text>
<text x="339.09" y="830.3" font-size="9.75" text-anchor="middle" font-weight="normal" fill="#1a1a1a" textLength="5.69" lengthAdjust="spacingAndGlyphs" stroke="#1a1a1a" stroke-width="0.2">0</text>
<text x="356.08" y="830.3" font-size="9.75" text-anchor="middle" font-weight="normal" fill="#1a1a1a" textLength="5.69" lengthAdjust="spacingAndGlyphs" stroke="#1a1a1a" stroke-width="0.2">0</text>
<text x="373.06999999999994" y="830.3" font-size="9.75" text-anchor="middle" font-weight="normal" fill="#1a1a1a" textLength="5.69" lengthAdjust="spacingAndGlyphs" stroke="#1a1a1a" stroke-width="0.2">0</text>
<text x="390.05999999999995" y="830.3" font-size="9.75" text-anchor="middle" font-weight="normal" fill="#1a1a1a" textLength="5.69" lengthAdjust="spacingAndGlyphs" stroke="#1a1a1a" stroke-width="0.2">0</text>
<text x="407.04999999999995" y="830.3" font-size="9.75" text-anchor="middle" font-weight="normal" fill="#1a1a1a" textLength="5.69" lengthAdjust="spacingAndGlyphs" stroke="#1a1a1a" stroke-width="0.2">0</text>
<text x="424.03999999999996" y="830.3" font-size="9.75" text-anchor="middle" font-weight="normal" fill="#1a1a1a" textLength="5.69" lengthAdjust="spacingAndGlyphs" stroke="#1a1a1a" stroke-width="0.2">0</text>
<text x="441.03" y="830.3" font-size="9.75" text-anchor="middle" font-weight="normal" fill="#1a1a1a" textLength="5.69" lengthAdjust="spacingAndGlyphs" stroke="#1a1a1a" stroke-width="0.2">0</text>
<text x="458.02" y="830.3" font-size="9.75" text-anchor="middle" font-weight="normal" fill="#1a1a1a" textLength="5.69" lengthAdjust="spacingAndGlyphs" stroke="#1a1a1a" stroke-width="0.2">0</text>
<text x="475.00999999999993" y="830.3" font-size="9.75" text-anchor="middle" font-weight="normal" fill="#1a1a1a" textLength="5.69" lengthAdjust="spacingAndGlyphs" stroke="#1a1a1a" stroke-width="0.2">0</text>
<text x="491.99999999999994" y="830.3" font-size="9.75" text-anchor="middle" font-weight="normal" fill="#1a1a1a" textLength="5.69" lengthAdjust="spacingAndGlyphs" stroke="#1a1a1a" stroke-width="0.2">0</text>
<rect x="0" y="0" width="1.5" height="843" fill="#000"/>
<rect x="0" y="0" width="520" height="1.5" fill="#000"/>
<rect x="518.2" y="0" width="1.8" height="843" fill="#000"/>
<rect x="0" y="841.2" width="520" height="1.8" fill="#000"/>
</svg>
</body></html>
